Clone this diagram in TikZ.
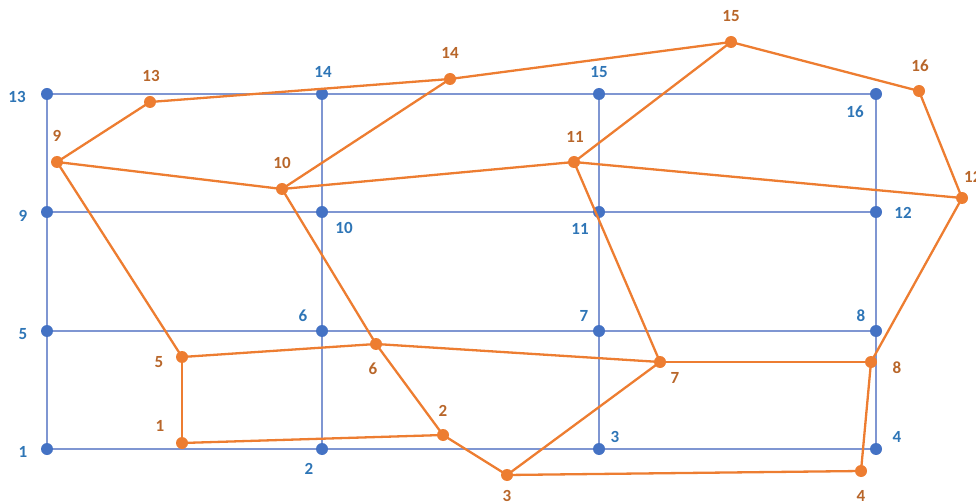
\documentclass[tikz,border=0pt]{standalone}
\usepackage{fontspec}
\setmainfont{Carlito}
\definecolor{gridline}{HTML}{7F96D2}
\definecolor{bdotc}{HTML}{4472C4}
\definecolor{blab}{HTML}{2E75B6}
\definecolor{orng}{HTML}{ED7D31}
\definecolor{olab}{HTML}{B8662A}
\begin{document}
\begin{tikzpicture}[x=1pt,y=-1pt,
  gline/.style={draw=gridline,line width=1.7pt},
  oline/.style={draw=orng,line width=2.3pt},
  bdot/.style={circle,fill=bdotc,inner sep=0pt,minimum size=12pt},
  odot/.style={circle,fill=orng,inner sep=0pt,minimum size=12pt},
  blabel/.style={text=blab,font=\fontsize{17}{17}\selectfont\bfseries,inner sep=0pt},
  olabel/.style={text=olab,font=\fontsize{17}{17}\selectfont\bfseries,inner sep=0pt}]
\useasboundingbox (0,0) rectangle (976,502);
% blue grid points
\coordinate (b1) at (47,449);
\coordinate (b2) at (322,449);
\coordinate (b3) at (599,449);
\coordinate (b4) at (876,449);
\coordinate (b5) at (47,331);
\coordinate (b6) at (322,331);
\coordinate (b7) at (599,331);
\coordinate (b8) at (876,331);
\coordinate (b9) at (47,212);
\coordinate (b10) at (322,212);
\coordinate (b11) at (599,212);
\coordinate (b12) at (876,212);
\coordinate (b13) at (47,94);
\coordinate (b14) at (322,94);
\coordinate (b15) at (599,94);
\coordinate (b16) at (876,94);
% orange points
\coordinate (o1) at (182,443);
\coordinate (o2) at (443,435);
\coordinate (o3) at (507,475);
\coordinate (o4) at (861,471);
\coordinate (o5) at (182,357);
\coordinate (o6) at (376,344);
\coordinate (o7) at (660,362);
\coordinate (o8) at (871,362);
\coordinate (o9) at (57,162);
\coordinate (o10) at (282,189);
\coordinate (o11) at (574,162);
\coordinate (o12) at (962,198);
\coordinate (o13) at (150,102);
\coordinate (o14) at (450,79);
\coordinate (o15) at (731,42);
\coordinate (o16) at (919,91);
% grid lines
\draw[gline] (b1) -- (b4);
\draw[gline] (b5) -- (b8);
\draw[gline] (b9) -- (b12);
\draw[gline] (b13) -- (b16);
\draw[gline] (b1) -- (b13);
\draw[gline] (b2) -- (b14);
\draw[gline] (b3) -- (b15);
\draw[gline] (b4) -- (b16);
\foreach \i in {1,...,16} \node[bdot] at (b\i) {};
% orange edges
\foreach \a/\b in {1/2,1/5,2/3,2/6,3/4,3/7,4/8,5/6,5/9,6/7,6/10,7/8,7/11,8/12,9/10,9/13,10/11,10/14,11/12,11/15,12/16,13/14,14/15,15/16}
  \draw[oline] (o\a) -- (o\b);
\foreach \i in {1,...,16} \node[odot] at (o\i) {};
% blue labels
\node[blabel] (lb1) at (23,452) {1};
\node[blabel] (lb2) at (309,469) {2};
\node[blabel] (lb3) at (615,437) {3};
\node[blabel] (lb4) at (897,437) {4};
\node[blabel] (lb5) at (23,334) {5};
\node[blabel] (lb6) at (303,316) {6};
\node[blabel] (lb7) at (584,316) {7};
\node[blabel] (lb8) at (861,316) {8};
\node[blabel] (lb9) at (23,216) {9};
\node[blabel] (lb10) at (344,228) {10};
\node[blabel] (lb11) at (580,229) {11};
\node[blabel] (lb12) at (903,213) {12};
\node[blabel] (lb13) at (17,97) {13};
\node[blabel] (lb14) at (323,72) {14};
\node[blabel] (lb15) at (599,72) {15};
\node[blabel] (lb16) at (855,112) {16};
% orange labels
\node[olabel] (lo1) at (160,426) {1};
\node[olabel] (lo2) at (443,411) {2};
\node[olabel] (lo3) at (507,496) {3};
\node[olabel] (lo4) at (861,496) {4};
\node[olabel] (lo5) at (159,362) {5};
\node[olabel] (lo6) at (373,369) {6};
\node[olabel] (lo7) at (675,378) {7};
\node[olabel] (lo8) at (897,368) {8};
\node[olabel] (lo9) at (57,136) {9};
\node[olabel] (lo10) at (282,163) {10};
\node[olabel] (lo11) at (575,137) {11};
\node[olabel,anchor=west] (lo12) at (964,177) {12};
\node[olabel] (lo13) at (151,76) {13};
\node[olabel] (lo14) at (450,53) {14};
\node[olabel] (lo15) at (731,16) {15};
\node[olabel] (lo16) at (920,66) {16};
\end{tikzpicture}
\end{document}
